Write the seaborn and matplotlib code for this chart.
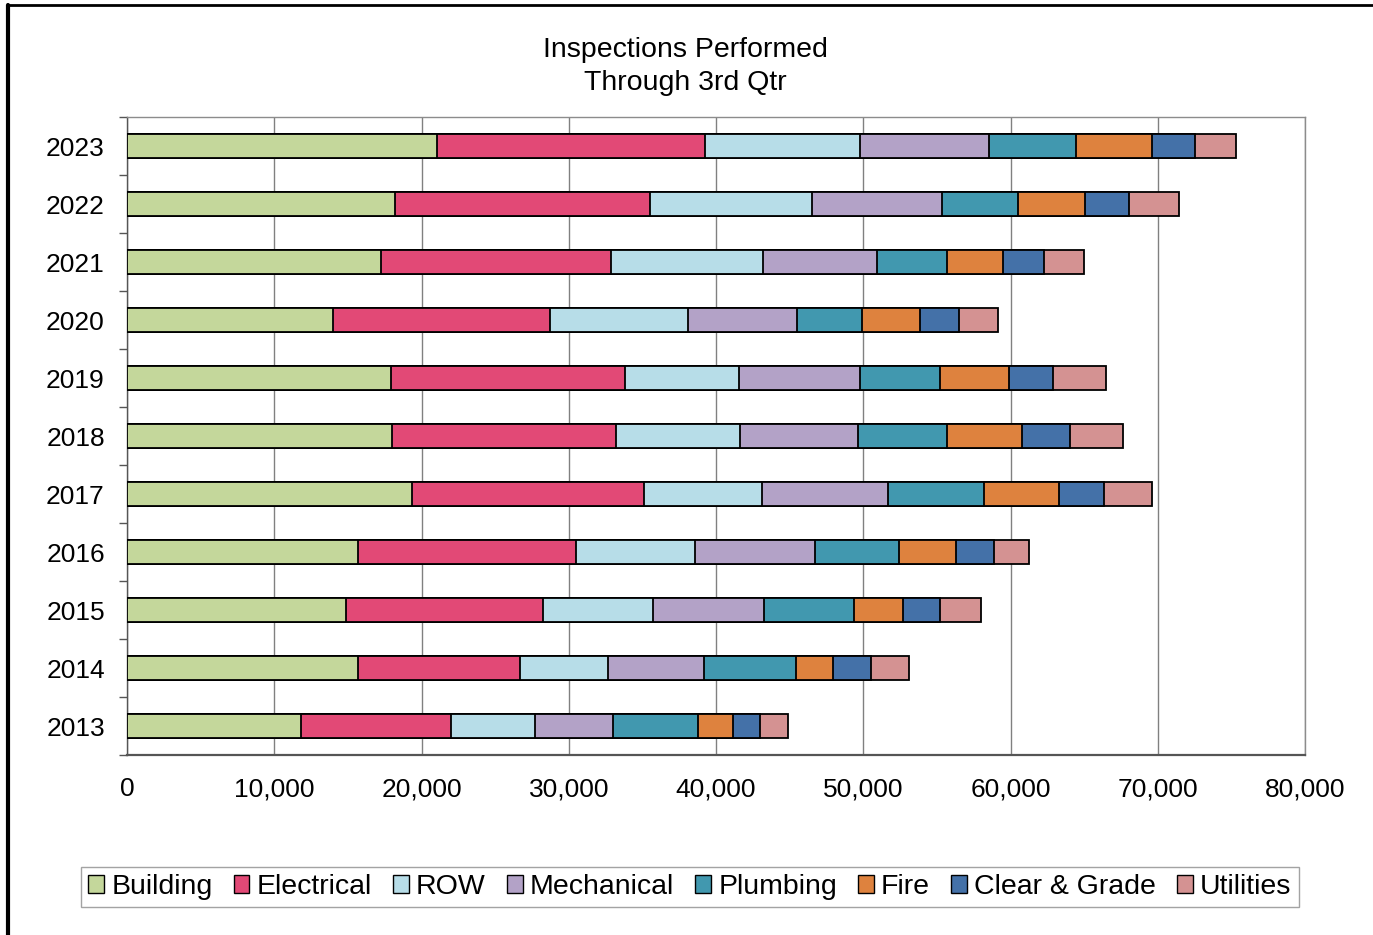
import matplotlib
matplotlib.use("Agg")
import matplotlib.pyplot as plt
import seaborn as sns
import pandas as pd
import numpy as np
from matplotlib.patches import Patch
from matplotlib.lines import Line2D
from matplotlib.ticker import FuncFormatter, MultipleLocator

years = ["2023", "2022", "2021", "2020", "2019", "2018", "2017", "2016", "2015", "2014", "2013"]
categories = ["Building", "Electrical", "ROW", "Mechanical", "Plumbing", "Fire", "Clear & Grade", "Utilities"]

building   = [21070, 18230, 17260, 13960, 17930, 17980, 19370, 15710, 14890, 15660, 11790]
electrical = [18200, 17270, 15610, 14740, 15870, 15260, 15770, 14790, 13340, 11030, 10210]
row        = [10510, 11030, 10310,  9430,  7730,  8400,  7990,  8040,  7480,  5980,  5710]
mechanical = [ 8760,  8810,  7780,  7370,  8250,  7980,  8560,  8200,  7570,  6540,  5320]
plumbing   = [ 5930,  5160,  4750,  4440,  5460,  6090,  6540,  5670,  6080,  6190,  5770]
fire       = [ 5150,  4590,  3810,  3910,  4640,  5040,  5050,  3860,  3310,  2570,  2370]
clear_grade= [ 2890,  2940,  2780,  2680,  3040,  3300,  3040,  2580,  2570,  2580,  1800]
utilities  = [ 2780,  3390,  2680,  2630,  3560,  3610,  3300,  2420,  2780,  2580,  1910]

colors = ["#C4D79B", "#E24976", "#B7DDE8", "#B3A2C7", "#4198AF", "#DE823E", "#4471A8", "#D49292"]

series = [building, electrical, row, mechanical, plumbing, fire, clear_grade, utilities]
df = pd.DataFrame({"Year": years})
for name, vals in zip(categories, series):
    df[name] = vals
cum = df[categories].cumsum(axis=1)

sns.set_theme(style="white")
plt.rcParams["font.family"] = ["Liberation Sans", "DejaVu Sans"]
plt.rcParams["text.color"] = "black"

fig = plt.figure(figsize=(13.73, 9.35), dpi=100)
ax = fig.add_axes([127/1373, 1-755/935, (1305-127)/1373, (755-117)/935])

for name, col in reversed(list(zip(categories, colors))):
    tmp = pd.DataFrame({"Year": years, "value": cum[name].values})
    sns.barplot(data=tmp, x="value", y="Year", order=years, orient="h",
                color=col, saturation=1, width=0.43, edgecolor="black",
                linewidth=1.3, ax=ax, zorder=3)

ax.set_xlim(0, 80000)
ax.set_ylim(len(years) - 0.5, -0.5)
ax.xaxis.set_major_locator(MultipleLocator(10000))
ax.xaxis.set_major_formatter(FuncFormatter(lambda v, p: f"{int(v):,}"))
ax.grid(axis="x", color="#808080", linewidth=1.0, zorder=0)
ax.set_axisbelow(True)
ax.set_xlabel("")
ax.set_ylabel("")
for s in ax.spines.values():
    s.set_color("#8c8c8c")
    s.set_linewidth(1.0)
ax.spines["bottom"].set_color("#555555")
ax.spines["bottom"].set_linewidth(1.6)
ax.spines["left"].set_color("#555555")

ax.tick_params(axis="x", labelsize=19, labelcolor="black", length=6, width=1, direction="out", pad=10, color="#555555")
ax.tick_params(axis="y", labelsize=19, labelcolor="black", length=0, pad=16)
ax.set_yticks(np.arange(-0.5, len(years) + 0.5, 1.0), minor=True)
ax.tick_params(axis="y", which="minor", length=6, width=1, direction="out", color="#555555", left=True)

fig.text(685/1373, 1 - 50/935, "Inspections Performed", ha="center", va="center", fontsize=20.5, color="black")
fig.text(685/1373, 1 - 83/935, "Through 3rd Qtr", ha="center", va="center", fontsize=20.5, color="black")

handles = [Patch(facecolor=c, edgecolor="black", linewidth=1.0) for c in colors]
leg = fig.legend(handles, categories, loc="center", bbox_to_anchor=(690/1373, 1 - 887/935),
                 ncol=8, fontsize=20.5, frameon=True, fancybox=False, edgecolor="#8c8c8c",
                 handlelength=0.55, handleheight=0.55, handletextpad=0.25, columnspacing=0.75,
                 borderpad=0.25, borderaxespad=0, labelcolor="black")
leg.get_frame().set_linewidth(1.0)

fig.add_artist(Line2D([8/1373, 8/1373], [0, 1 - 5/935], color="black", linewidth=3, transform=fig.transFigure))
fig.add_artist(Line2D([8/1373, 1], [1 - 5/935, 1 - 5/935], color="black", linewidth=2, transform=fig.transFigure))

fig.savefig("out.png", dpi=100)
